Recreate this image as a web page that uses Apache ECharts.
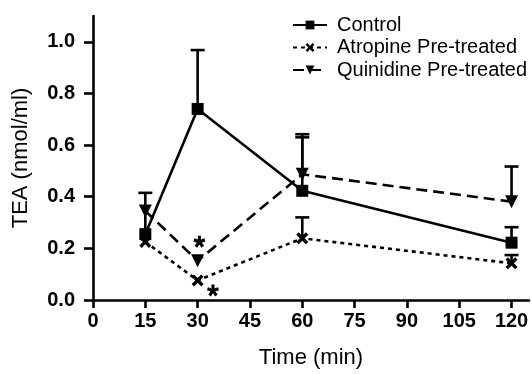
<!DOCTYPE html>
<html>
<head>
<meta charset="utf-8">
<script src="https://cdn.jsdelivr.net/npm/echarts@6/dist/echarts.min.js"></script>
<style>html,body{margin:0;padding:0;background:#fff}#c{width:532px;height:374px}</style>
</head>
<body>
<div id="c"></div>
<script>
var times = [15, 30, 60, 120];
var xTicks = [0, 15, 30, 45, 60, 75, 90, 105, 120];
var yTicks = [0, 0.2, 0.4, 0.6, 0.8, 1.0];
var seriesNames = ['Control', 'Atropine Pre-treated', 'Quinidine Pre-treated'];
var control = [0.255, 0.74, 0.423, 0.222];
var controlErrTop = [0.415, 0.968, 0.63, 0.282];
var atropine = [0.225, 0.076, 0.239, 0.142];
var atropineErrTop = [null, null, 0.32, 0.174];
var quinidine = [0.345, 0.152, 0.487, 0.381];
var quinidineErrTop = [null, null, 0.642, 0.517];
var asterisks = [[30.5, 0.226], [34.4, 0.037]];

var FONT = 'Liberation Sans';
function pairs(vals) { return times.map(function (t, i) { return [t, vals[i]]; }); }
function errData(vals, tops) {
  var out = [];
  times.forEach(function (t, i) { if (tops[i] != null) out.push([t, vals[i], tops[i]]); });
  return out;
}
function errSeries(vals, tops) {
  return {
    type: 'custom',
    data: errData(vals, tops),
    encode: { x: 0, y: [1, 2] },
    z: 1,
    silent: true,
    renderItem: function (params, api) {
      var p1 = api.coord([api.value(0), api.value(1)]);
      var p2 = api.coord([api.value(0), api.value(2)]);
      var hw = 7;
      return {
        type: 'group',
        children: [
          { type: 'line', shape: { x1: p1[0], y1: p1[1], x2: p2[0], y2: p2[1] }, style: { stroke: '#000', lineWidth: 2.6 } },
          { type: 'line', shape: { x1: p2[0] - hw, y1: p2[1], x2: p2[0] + hw, y2: p2[1] }, style: { stroke: '#000', lineWidth: 2.6 } }
        ]
      };
    }
  };
}
var xSym = 'path://M2,0 L5,3 L8,0 L10,2 L7,5 L10,8 L8,10 L5,7 L2,10 L0,8 L3,5 L0,2 Z';
// five-armed asterisk glyph built as a filled path
function starPath() {
  var c = 10, L = 10, w = 2.6, s = '';
  for (var k = 0; k < 5; k++) {
    var a = (-90 + k * 72) * Math.PI / 180;
    var ux = Math.cos(a), uy = Math.sin(a), nx = -uy, ny = ux;
    var pts = [
      [c - 1 * ux + w * nx, c - 1 * uy + w * ny],
      [c - 1 * ux - w * nx, c - 1 * uy - w * ny],
      [c + L * ux - w * nx, c + L * uy - w * ny],
      [c + L * ux + w * nx, c + L * uy + w * ny]
    ];
    s += 'M' + pts.map(function (p) { return p[0].toFixed(2) + ',' + p[1].toFixed(2); }).join(' L') + ' Z ';
  }
  return 'path://' + s;
}

var chart = echarts.init(document.getElementById('c'));
chart.setOption({
  animation: false,
  backgroundColor: '#fff',
  textStyle: { fontFamily: FONT, color: '#000' },
  grid: { left: 93, right: 3, top: 16, bottom: 69, containLabel: false },
  legend: {
    data: seriesNames,
    orient: 'vertical',
    left: 287,
    top: 10,
    itemWidth: 34,
    itemHeight: 11,
    itemGap: 2.5,
    textStyle: { fontFamily: FONT, fontSize: 20, color: '#000', padding: [0, 0, 0, 5] }
  },
  xAxis: {
    type: 'value',
    min: 0,
    max: 125,
    interval: 15,
    name: 'Time (min)',
    nameLocation: 'middle',
    nameGap: 47,
    nameTextStyle: { fontFamily: FONT, fontSize: 22, color: '#000' },
    axisLine: { show: true, lineStyle: { color: '#000', width: 2.6 } },
    axisTick: { show: true, length: 8, lineStyle: { color: '#000', width: 2.6 }, customValues: xTicks },
    axisLabel: { customValues: xTicks, margin: 11, fontFamily: FONT, fontSize: 20, fontWeight: 'bold', color: '#000' },
    splitLine: { show: false }
  },
  yAxis: {
    type: 'value',
    min: 0,
    max: 1.1,
    interval: 0.2,
    name: 'TEA (nmol/ml)',
    nameLocation: 'middle',
    nameGap: 61,
    nameTextStyle: { fontFamily: FONT, fontSize: 22, color: '#000' },
    axisLine: { show: true, lineStyle: { color: '#000', width: 2.6 } },
    axisTick: { show: true, length: 9, lineStyle: { color: '#000', width: 2.6 }, customValues: yTicks },
    axisLabel: { customValues: yTicks, margin: 18, fontFamily: FONT, fontSize: 20, fontWeight: 'bold', color: '#000',
      formatter: function (v) { return v.toFixed(1); } },
    splitLine: { show: false }
  },
  series: [
    errSeries(control, controlErrTop),
    errSeries(atropine, atropineErrTop),
    errSeries(quinidine, quinidineErrTop),
    {
      name: seriesNames[0], type: 'line', data: pairs(control), z: 3,
      symbol: 'rect', symbolSize: 12,
      itemStyle: { color: '#000' },
      lineStyle: { color: '#000', width: 2.6, type: 'solid' }
    },
    {
      name: seriesNames[1], type: 'line', data: pairs(atropine), z: 3,
      symbol: xSym, symbolSize: 12,
      itemStyle: { color: '#000' },
      lineStyle: { color: '#000', width: 2.6, type: [4, 4] }
    },
    {
      name: seriesNames[2], type: 'line', data: pairs(quinidine), z: 3,
      symbol: 'triangle', symbolRotate: 180, symbolSize: 13,
      itemStyle: { color: '#000' },
      lineStyle: { color: '#000', width: 2.6, type: [11, 6] }
    },
    {
      type: 'scatter', data: asterisks, symbol: starPath(), symbolSize: 12, silent: true, z: 4,
      itemStyle: { color: '#000', opacity: 1 }
    }
  ]
});
</script>
</body>
</html>
